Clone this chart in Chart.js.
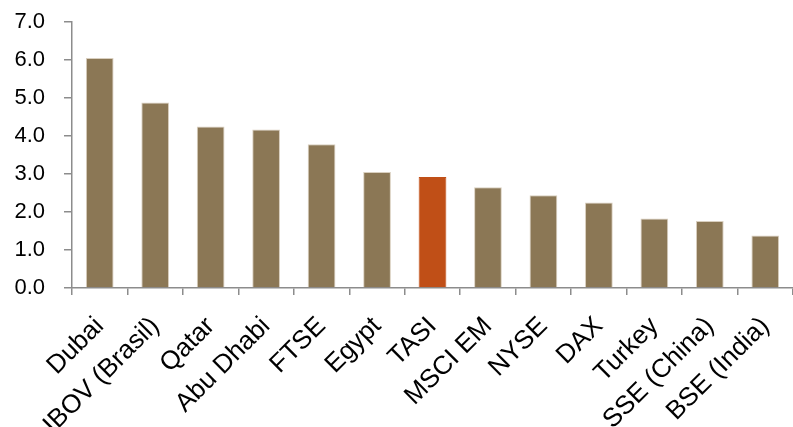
<!DOCTYPE html>
<html>
<head>
<meta charset="utf-8">
<script src="https://cdn.jsdelivr.net/npm/chart.js@4.4.1/dist/chart.umd.min.js"></script>
<style>
  html, body { margin: 0; padding: 0; background: #ffffff; }
  #wrap { width: 793px; height: 427px; position: relative; }
</style>
</head>
<body>
<div id="wrap"><canvas id="chart"></canvas></div>
<script>
// Market indices and their values
const categories = ['Dubai', 'IBOV (Brasil)', 'Qatar', 'Abu Dhabi', 'FTSE', 'Egypt', 'TASI',
  'MSCI EM', 'NYSE', 'DAX', 'Turkey', 'SSE (China)', 'BSE (India)'];
const values = [6.05, 4.88, 4.25, 4.17, 3.78, 3.05, 2.92, 2.65, 2.44, 2.25, 1.83, 1.76, 1.38];
const highlighted = 'TASI';
const yTicks = [0, 1, 2, 3, 4, 5, 6, 7];

const baseColor = '#8B7755';
const accentColor = '#C04F17';
const axisColor = '#8c8c8c';

const barColors = categories.map(c => c === highlighted ? accentColor : baseColor);
const borderColors = categories.map(c => c === highlighted ? accentColor : '#d9cfbf');

new Chart(document.getElementById('chart'), {
  type: 'bar',
  data: {
    labels: categories,
    datasets: [{
      data: values,
      backgroundColor: barColors,
      borderColor: borderColors,
      borderWidth: 1,
      barPercentage: 0.5,
      categoryPercentage: 1.0
    }]
  },
  options: {
    responsive: true,
    maintainAspectRatio: false,
    animation: false,
    layout: { padding: 0 },
    plugins: { legend: { display: false }, tooltip: { enabled: false } },
    scales: {
      x: {
        offset: true,
        grid: { offset: true, drawOnChartArea: false, drawTicks: true, tickLength: 7, color: axisColor, lineWidth: 1.5 },
        border: { color: axisColor, width: 1.5 },
        ticks: { color: '#000', font: { family: 'Liberation Sans, Arial, sans-serif', size: 26 }, maxRotation: 45, minRotation: 45, autoSkip: false, padding: 16 },
        afterFit: s => { s.height = 139; s.paddingLeft = 0; s.paddingRight = 0; }
      },
      y: {
        min: 0,
        max: 7,
        afterBuildTicks: s => { s.ticks = yTicks.map(v => ({ value: v })); },
        grid: { drawOnChartArea: false, drawTicks: true, tickLength: 8, color: axisColor, lineWidth: 1.5 },
        border: { color: axisColor, width: 1.5 },
        ticks: { color: '#000', font: { family: 'Liberation Sans, Arial, sans-serif', size: 22 }, padding: 19, callback: v => Number(v).toFixed(1) },
        afterFit: s => { s.width = 72; s.paddingTop = 22; s.paddingBottom = 0; }
      }
    }
  }
});
</script>
</body>
</html>
